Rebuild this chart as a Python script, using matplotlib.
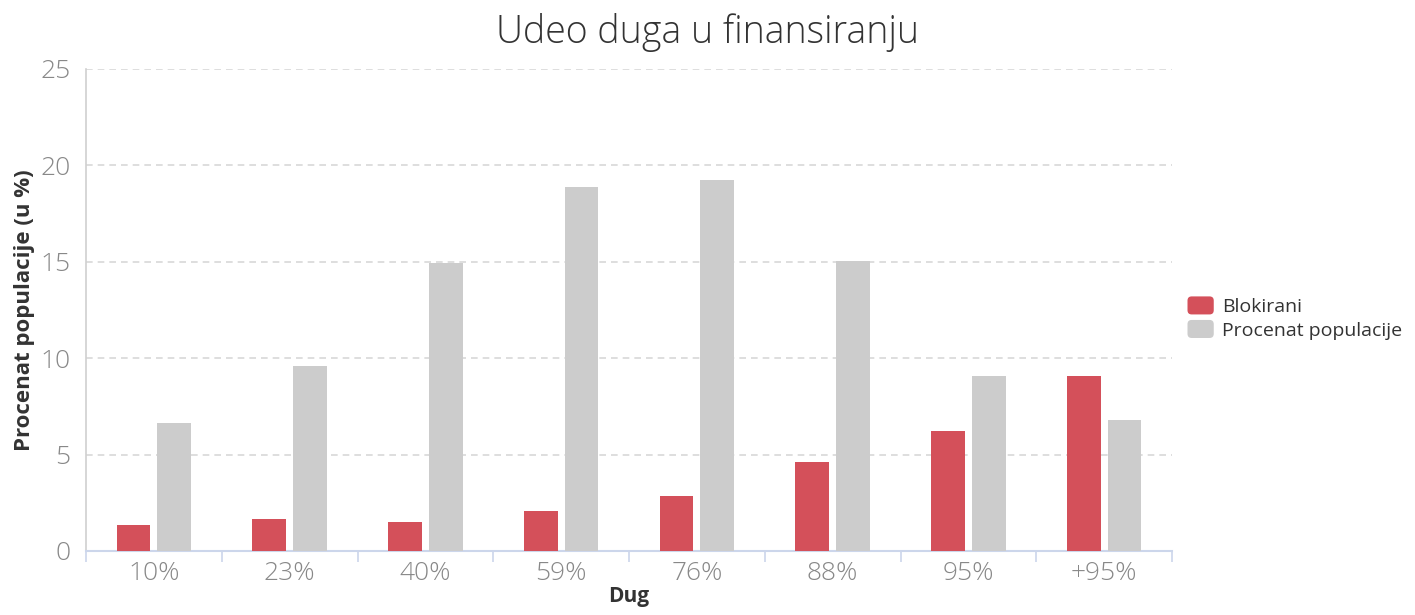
import matplotlib.pyplot as plt
import numpy as np
from matplotlib.patches import FancyBboxPatch, Patch
from matplotlib.legend_handler import HandlerPatch

categories = ['10%', '23%', '40%', '59%', '76%', '88%', '95%', '+95%']
blokirani = [1.35, 1.66, 1.5, 2.07, 2.85, 4.62, 6.22, 9.08]
populacija = [6.64, 9.6, 14.94, 18.88, 19.24, 15.04, 9.08, 6.79]

red = '#d4505a'
gray = '#cccccc'

plt.rcParams['font.family'] = ['Open Sans', 'DejaVu Sans']

fig = plt.figure(figsize=(14.15, 6.15), dpi=100)
ax = fig.add_axes([86 / 1415, 1 - 551 / 615, (1172 - 86) / 1415, (551 - 69) / 615])

x = np.arange(len(categories))
w = 0.25
ax.bar(x - 0.15, blokirani, w, color=red, zorder=3)
ax.bar(x + 0.15, populacija, w, color=gray, zorder=3)

ax.set_xlim(-0.5, len(categories) - 0.5)
ax.set_ylim(0, 25)
ax.set_yticks([0, 5, 10, 15, 20, 25])
ax.yaxis.grid(True, color='#d8d8d8', linestyle=(0, (4, 3)), linewidth=1.2, zorder=0)

# category labels centred, tick marks on boundaries
ax.set_xticks(x)
ax.set_xticklabels(categories)
ax.tick_params(axis='x', length=0, pad=7, labelsize=19, labelcolor='#888888')
ax.set_xticks(np.arange(-0.5, len(categories)), minor=True)
ax.tick_params(axis='x', which='minor', length=8, color='#ccd6eb', width=1.2)
ax.tick_params(axis='y', length=0, pad=11, labelsize=19, labelcolor='#888888')
for t in ax.get_yticklabels() + ax.get_xticklabels():
    t.set_fontweight('light')

for s in ['top', 'right']:
    ax.spines[s].set_visible(False)
ax.spines['left'].set_color('#d0d0d0')
ax.spines['left'].set_linewidth(1.2)
ax.spines['bottom'].set_color('#ccd6eb')
ax.spines['bottom'].set_linewidth(1.5)

ax.set_xlabel('Dug', fontsize=15, fontweight='bold', color='#333333', labelpad=0)
ax.set_ylabel('Procenat populacije (u %)', fontsize=16, fontweight='bold', color='#333333', labelpad=4)
fig.text(708 / 1415, 1 - 32 / 615, 'Udeo duga u finansiranju', ha='center', va='center',
         fontsize=27, color='#333333', fontweight='light')


class RoundHandler(HandlerPatch):
    def create_artists(self, legend, orig_handle, xdescent, ydescent, width, height, fontsize, trans):
        p = FancyBboxPatch((-xdescent, -ydescent), width, height,
                           boxstyle='round,pad=0,rounding_size=3',
                           facecolor=orig_handle.get_facecolor(), edgecolor='none', transform=trans)
        return [p]


handles = [Patch(color=red), Patch(color=gray)]
labels = ['Blokirani', 'Procenat populacije']
leg = fig.legend(handles, labels, loc='center left', bbox_to_anchor=(1170 / 1415, 1 - 318 / 615),
                 frameon=False, fontsize=14, handlelength=1.35, handleheight=1.05,
                 handletextpad=0.45, labelspacing=0.2,
                 handler_map={Patch: RoundHandler()})
for t in leg.get_texts():
    t.set_color('#333333')

fig.savefig('out.png', dpi=100)
